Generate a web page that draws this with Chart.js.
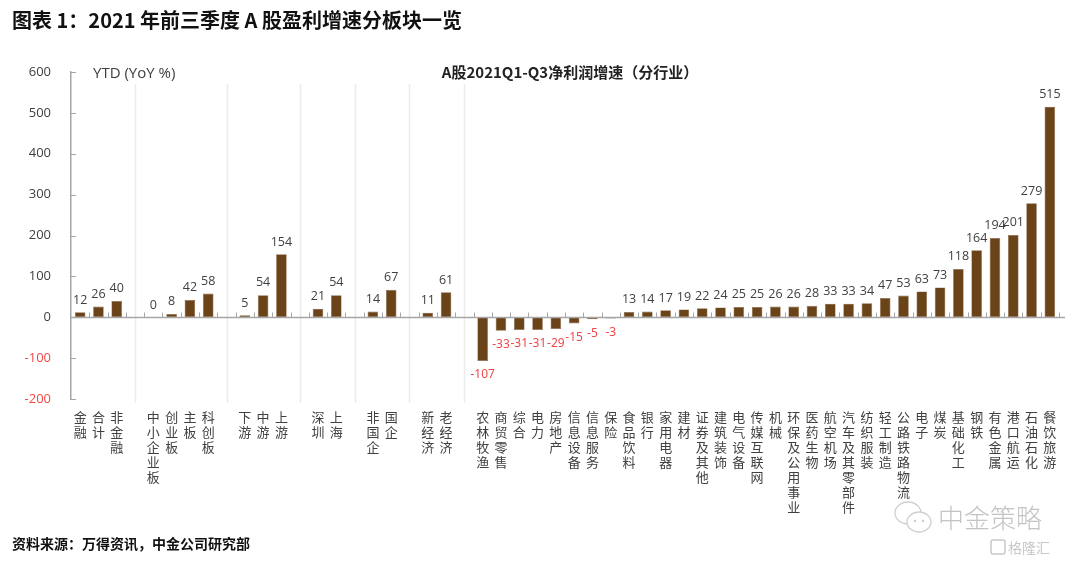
<!DOCTYPE html>
<html>
<head>
<meta charset="utf-8">
<script src="https://cdn.jsdelivr.net/npm/chart.js@4/dist/chart.umd.min.js"></script>
<style>
    body {
        margin: 0;
        width: 1080px;
        height: 563px;
        background: #fff;
        position: relative;
        overflow: hidden;
        font-family: "Noto Sans CJK SC", "Noto Sans", sans-serif;
    }
    canvas { position: absolute; left: 0; top: 0; }
    .txt { position: absolute; white-space: nowrap; }
    #mainTitle { left: 12px; top: 7px; font-size: 20px; line-height: 26px; font-weight: bold; color: #111; }
    #unit { left: 93px; top: 61px; font-size: 15px; line-height: 22px; color: #404040; font-family: "Open Sans", "Noto Sans CJK SC", sans-serif; }
    #chartTitle { left: 570px; top: 61px; font-size: 15px; line-height: 22px; font-weight: bold; color: #222; transform: translateX(-50%); }
    #source { left: 12px; top: 534px; font-size: 14px; line-height: 18px; font-weight: bold; color: #111; }
    #wm { left: 938px; top: 500px; font-size: 26px; line-height: 34px; color: #c4c4c4; font-weight: 300; }
    #wm2 { left: 1008px; top: 538px; font-size: 14px; line-height: 18px; color: #c8c8c8; }
</style>
</head>
<body>
<canvas id="chartProfit" width="1080" height="563"></canvas>
<div class="txt" id="mainTitle">图表 1：2021 年前三季度 A 股盈利增速分板块一览</div>
<div class="txt" id="unit">YTD (YoY %)</div>
<div class="txt" id="chartTitle">A股2021Q1-Q3净利润增速（分行业）</div>
<div class="txt" id="source">资料来源：万得资讯，中金公司研究部</div>
<svg class="txt" style="left:892px; top:498px" width="44" height="40">
    <ellipse cx="16" cy="15" rx="13" ry="11" fill="none" stroke="#cfcfcf" stroke-width="1.3"/>
    <ellipse cx="27" cy="24" rx="12" ry="10" fill="#fff" stroke="#cfcfcf" stroke-width="1.3"/>
    <circle cx="23" cy="23" r="1.3" fill="#cfcfcf"/><circle cx="31" cy="23" r="1.3" fill="#cfcfcf"/>
</svg>
<div class="txt" id="wm">中金策略</div>
<svg class="txt" style="left:990px; top:539px" width="16" height="16">
    <rect x="1" y="1" width="14" height="14" rx="2" fill="none" stroke="#c8c8c8" stroke-width="1.5"/>
</svg>
<div class="txt" id="wm2">格隆汇</div>

<script>
// categories, '' marks the blank slot between two groups
const categories = [
    "金融", "合计", "非金融", "",
    "中小企业板", "创业板", "主板", "科创板", "",
    "下游", "中游", "上游", "",
    "深圳", "上海", "",
    "非国企", "国企", "",
    "新经济", "老经济", "",
    "农林牧渔", "商贸零售", "综合", "电力", "房地产", "信息设备", "信息服务", "保险",
    "食品饮料", "银行", "家用电器", "建材", "证券及其他", "建筑装饰", "电气设备", "传媒互联网",
    "机械", "环保及公用事业", "医药生物", "航空机场", "汽车及其零部件", "纺织服装", "轻工制造", "公路铁路物流",
    "电子", "煤炭", "基础化工", "钢铁", "有色金属", "港口航运", "石油石化", "餐饮旅游",
];
const growth = [
    12, 26, 40, null,
    0, 8, 42, 58, null,
    5, 54, 154, null,
    21, 54, null,
    14, 67, null,
    11, 61, null,
    -107, -33, -31, -31, -29, -15, -5, -3,
    13, 14, 17, 19, 22, 24, 25, 25,
    26, 26, 28, 33, 33, 34, 47, 53,
    63, 73, 118, 164, 194, 201, 279, 515,
];
const yTicks = [-200, -100, 0, 100, 200, 300, 400, 500, 600];

const barColor = "#6b4318";
const textGray = "#404040";
const red = "#f04848";
const axisGray = "#a6a6a6";

const ctxProfit = document.getElementById("chartProfit").getContext("2d");

// light vertical lines between the groups, zero line, small tick marks
const axisPlugin = {
    id: "axisPlugin",
    beforeDatasetsDraw: (chart) => {
        const ctx = chart.ctx;
        const x = chart.scales.x;
        const area = chart.chartArea;
        ctx.save();
        ctx.strokeStyle = "#ececec";
        ctx.lineWidth = 1.5;
        categories.forEach((c, i) => {
            if (c !== "") return;
            const px = Math.round(x.getPixelForValue(i)) + 0.5;
            ctx.beginPath();
            ctx.moveTo(px, area.top + 12);
            ctx.lineTo(px, area.bottom + 4);
            ctx.stroke();
        });
        ctx.restore();
    },
    afterDatasetsDraw: (chart) => {
        const ctx = chart.ctx;
        const x = chart.scales.x;
        const y = chart.scales.y;
        const area = chart.chartArea;
        const y0 = Math.round(y.getPixelForValue(0)) + 0.5;
        ctx.save();
        ctx.strokeStyle = axisGray;
        ctx.lineWidth = 1.5;
        ctx.beginPath();
        ctx.moveTo(area.left, y0);
        ctx.lineTo(area.right + 6, y0);
        ctx.stroke();
        // category boundaries on the zero line
        ctx.lineWidth = 1;
        const step = x.getPixelForValue(1) - x.getPixelForValue(0);
        for (let i = 1; i <= categories.length; i++) {
            const px = Math.round(x.getPixelForValue(i) - step / 2) + 0.5;
            ctx.beginPath();
            ctx.moveTo(px, y0);
            ctx.lineTo(px, y0 - 5);
            ctx.stroke();
        }
        // y ticks pointing inward
        yTicks.forEach((v) => {
            const py = Math.round(y.getPixelForValue(v)) + 0.5;
            ctx.beginPath();
            ctx.moveTo(area.left, py);
            ctx.lineTo(area.left + 5, py);
            ctx.stroke();
        });
        ctx.restore();
    },
};

// value labels, red under the negative bars
const valueLabels = {
    id: "valueLabels",
    afterDatasetsDraw: (chart) => {
        const ctx = chart.ctx;
        const meta = chart.getDatasetMeta(0);
        ctx.save();
        ctx.textAlign = "center";
        meta.data.forEach((bar, i) => {
            const v = growth[i];
            if (v === null) return;
            if (v < 0) {
                ctx.font = "12px 'Noto Sans', sans-serif";
                ctx.fillStyle = red;
                ctx.textBaseline = "top";
                ctx.fillText(String(v), bar.x, bar.y + 8);
            } else {
                ctx.font = "12.5px 'Open Sans', 'Noto Sans', sans-serif";
                ctx.fillStyle = textGray;
                ctx.textBaseline = "bottom";
                ctx.fillText(String(v), bar.x, bar.y - 6);
            }
        });
        ctx.restore();
    },
};

const barChartProfit = new Chart(ctxProfit, {
    type: "bar",
    data: {
        labels: categories.map((c) => c.split("")),
        datasets: [
            {
                data: growth,
                backgroundColor: barColor,
                borderColor: "#8a6a4c",
                borderWidth: 0.6,
                borderSkipped: false,
                barPercentage: 0.58,
                categoryPercentage: 1,
            },
        ],
    },
    options: {
        responsive: false,
        animation: false,
        layout: {
            padding: { top: 72, right: 21, bottom: 0, left: 0 },
        },
        plugins: {
            legend: { display: false },
            tooltip: { enabled: false },
        },
        scales: {
            x: {
                grid: { display: false, drawTicks: false },
                border: { display: false },
                ticks: {
                    autoSkip: false,
                    maxRotation: 0,
                    minRotation: 0,
                    padding: 11,
                    color: textGray,
                    font: { size: 13, family: "'Noto Sans CJK SC'", lineHeight: 1.15 },
                },
                afterFit: (scale) => {
                    scale.height = 164;
                },
            },
            y: {
                min: -200,
                max: 600,
                grid: { display: false, drawTicks: false },
                border: { display: true, color: axisGray, width: 1.5 },
                ticks: {
                    stepSize: 100,
                    padding: 20,
                    color: (c) => (c.tick.value < 0 ? red : textGray),
                    font: { size: 13, family: "'Open Sans', 'Noto Sans', sans-serif" },
                },
                afterFit: (scale) => {
                    scale.width = 71;
                },
            },
        },
    },
    plugins: [axisPlugin, valueLabels],
});
</script>
</body>
</html>
